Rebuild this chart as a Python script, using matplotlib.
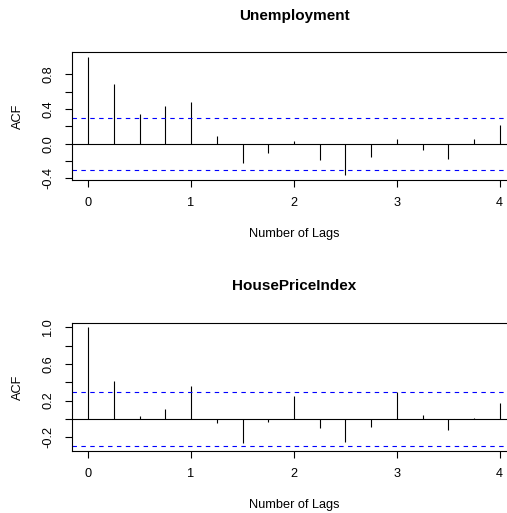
import numpy as np
import matplotlib
matplotlib.use("Agg")
import matplotlib.pyplot as plt

plt.rcParams['font.family'] = ['Liberation Sans', 'DejaVu Sans']

# quarterly lags, expressed in years
lags = [0.0, 0.25, 0.5, 0.75, 1.0, 1.25, 1.5, 1.75, 2.0,
        2.25, 2.5, 2.75, 3.0, 3.25, 3.5, 3.75, 4.0]

acf_unemployment = [1.0, 0.684, 0.338, 0.434, 0.48, 0.088, -0.219, -0.104, 0.027,
                    -0.188, -0.365, -0.157, 0.05, -0.077, -0.173, 0.05, 0.211]
acf_house_price = [1.0, 0.41, 0.029, 0.103, 0.355, -0.044, -0.264, -0.033, 0.253,
                   -0.103, -0.256, -0.084, 0.293, 0.048, -0.121, 0.01, 0.172]

ci_bound = 0.299  # 1.96 / sqrt(n)

x_ticks = [0, 1, 2, 3, 4]
unemp_yticks = [-0.4, -0.2, 0.0, 0.2, 0.4, 0.6, 0.8]
unemp_ylabels = ['-0.4', '', '0.0', '', '0.4', '', '0.8']
house_yticks = [-0.2, 0.0, 0.2, 0.4, 0.6, 0.8, 1.0]
house_ylabels = ['-0.2', '', '0.2', '', '0.6', '', '1.0']

W, H = 507, 513
DPI = 100
PT = 72.0 / DPI  # points per pixel
LABEL_SIZE = 9.2
TITLE_SIZE = 11

fig = plt.figure(figsize=(W / DPI, H / DPI), dpi=DPI)
fig.patch.set_facecolor('white')


def acf_panel(rect, values, title, yticks, ylabels):
    ax = fig.add_axes(rect)
    lo = min(min(values), -ci_bound)
    hi = max(max(values), ci_bound)
    pad = 0.04 * (hi - lo)
    ax.set_ylim(lo - pad, hi + pad)
    ax.set_xlim(-0.16, 4.16)

    ax.vlines(lags, 0, values, colors='black', linewidth=0.8)
    ax.axhline(0, color='black', linewidth=0.8)
    for b in (ci_bound, -ci_bound):
        ax.axhline(b, color='blue', linewidth=0.8, linestyle=(0, (4, 4)))

    for s in ax.spines.values():
        s.set_linewidth(0.8)

    ax.set_xticks(x_ticks)
    ax.set_xticklabels([str(t) for t in x_ticks])
    ax.set_yticks(yticks)
    ax.set_yticklabels(ylabels)
    ax.tick_params(axis='both', length=7 * PT, width=0.8, labelsize=LABEL_SIZE)
    ax.tick_params(axis='x', pad=10 * PT)
    ax.tick_params(axis='y', pad=10.5 * PT)
    for t in ax.get_yticklabels():
        t.set_rotation(90)
        t.set_va('center')

    ax.annotate(title, xy=(0.5, 1), xycoords='axes fraction',
                xytext=(0, 36.5 * PT), textcoords='offset points',
                ha='center', va='center', fontsize=TITLE_SIZE, fontweight='bold')
    ax.annotate('Number of Lags', xy=(0.5, 0), xycoords='axes fraction',
                xytext=(0, -54 * PT), textcoords='offset points',
                ha='center', va='center', fontsize=LABEL_SIZE)
    ax.annotate('ACF', xy=(0, 0.5), xycoords='axes fraction',
                xytext=(-53.5 * PT, 0), textcoords='offset points',
                ha='center', va='center', fontsize=LABEL_SIZE, rotation=90)
    return ax


left = 71.7 / W
width = (516.2 - 71.7) / W
acf_panel([left, 1 - 180 / H, width, (180 - 52.3) / H],
          acf_unemployment, 'Unemployment', unemp_yticks, unemp_ylabels)
acf_panel([left, 1 - 451 / H, width, (451 - 322.7) / H],
          acf_house_price, 'HousePriceIndex', house_yticks, house_ylabels)

fig.savefig('out.png', dpi=DPI)
